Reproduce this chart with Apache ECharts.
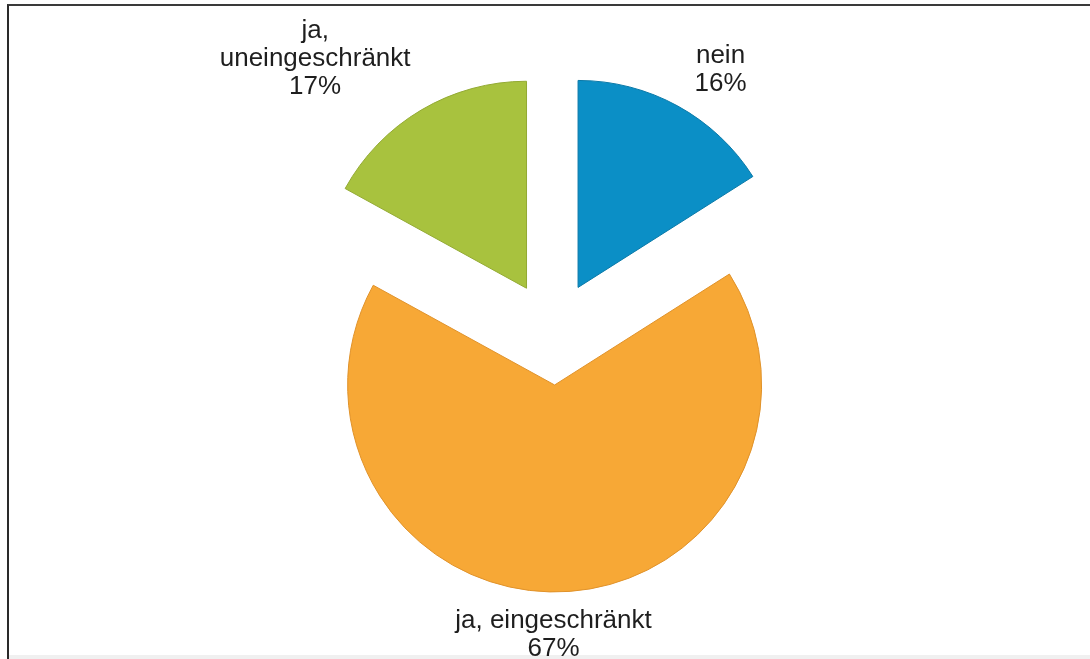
<!DOCTYPE html>
<html>
<head>
<meta charset="utf-8">
<script src="https://cdn.jsdelivr.net/npm/echarts@6/dist/echarts.min.js"></script>
<style>
  html, body { margin: 0; padding: 0; background: #fff; }
  #frame {
    position: absolute; left: 7px; top: 4px; width: 1083px; height: 655px;
    border-top: 2px solid #3a3a3a; border-left: 2px solid #2a2a2a;
    box-sizing: border-box;
  }
  #base {
    position: absolute; left: 9px; top: 655px; width: 1081px; height: 4px;
    background: #f0f0f0;
  }
  #chart { position: absolute; left: 0; top: 0; width: 1090px; height: 659px; }
</style>
</head>
<body>
<div id="frame"></div>
<div id="base"></div>
<div id="chart"></div>
<script>
// Answer categories, clockwise from 12 o'clock
const categories = ['nein', 'ja, eingeschränkt', 'ja,\nuneingeschränkt'];
const shares = [16, 67, 17];
const colors = ['#0b8fc6', '#f7a836', '#a8c23e'];
const edgeColors = ['#0a79a8', '#e0922a', '#93aa33'];

// per-slice label distance from the rim and horizontal run
const labelLen = [41, 43, 59];
const labelLen2 = [18, 0, 71];
const labelShift = [0, -14, 0];

const chart = echarts.init(document.getElementById('chart'), null, { renderer: 'canvas' });

chart.setOption({
  backgroundColor: 'transparent',
  animation: false,
  series: [{
    type: 'pie',
    center: [553, 333],
    radius: [0, 207],
    startAngle: 90,
    clockwise: true,
    selectedMode: 'multiple',
    selectedOffset: 52,
    avoidLabelOverlap: false,
    emphasis: { disabled: true },
    label: {
      show: true,
      position: 'outside',
      formatter: p => p.name + '\n' + p.value + '%',
      fontFamily: '"Liberation Sans", Arial, sans-serif',
      fontSize: 26,
      lineHeight: 28,
      color: '#1e1e1e'
    },
    labelLine: { show: false },
    labelLayout: p => ({ align: 'center', verticalAlign: 'middle', dx: labelShift[p.dataIndex] }),
    data: categories.map((name, i) => ({
      name,
      value: shares[i],
      selected: true,
      itemStyle: { color: colors[i], borderColor: edgeColors[i], borderWidth: 1 },
      labelLine: { show: false, length: labelLen[i], length2: labelLen2[i] }
    }))
  }]
});
</script>
</body>
</html>
